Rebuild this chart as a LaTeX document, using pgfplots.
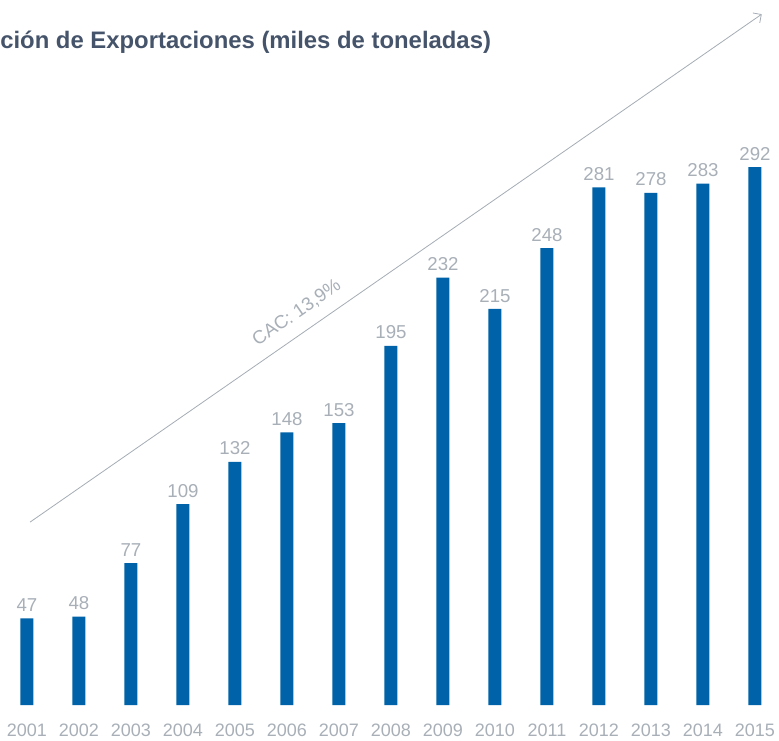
\documentclass[border=0pt]{standalone}
\usepackage{pgfplots}
\pgfplotsset{compat=1.18}
\usepackage{fontspec}
\setmainfont{Liberation Sans}
\usetikzlibrary{arrows.meta}
\definecolor{barblue}{RGB}{0,98,168}
\definecolor{lblgray}{RGB}{168,175,183}
\definecolor{titlecol}{RGB}{69,84,106}
\definecolor{arrowgray}{RGB}{165,172,180}
\begin{document}
\begin{tikzpicture}
\begin{axis}[
  scale only axis, width=584.25pt, height=528.75pt,
  xmin=-0.519, xmax=14.462, ymin=0, ymax=382.7,
  clip=false,
  axis line style={draw=none},
  ytick=\empty,
  xtick={0,...,14},
  xticklabels={2001,2002,2003,2004,2005,2006,2007,2008,2009,2010,2011,2012,2013,2014,2015},
  major tick length=0pt,
  x tick label style={font=\fontsize{13.5}{15}\selectfont, text=lblgray, yshift=-11pt},
  /pgf/number format/assume math mode=true,
]
\addplot[ybar, bar width=9.75pt, fill=barblue, draw=none,
  nodes near coords,
  nodes near coords style={font=\fontsize{14}{16}\selectfont, text=lblgray, yshift=1.5pt}]
  coordinates {(0,47) (1,48) (2,77) (3,109) (4,132) (5,148) (6,153) (7,195) (8,232) (9,215) (10,248) (11,281) (12,278) (13,283) (14,292)};
\addplot[arrowgray, line width=0.6pt, -{Straight Barb[length=4.5pt,width=9pt]}]
  coordinates {(0.06,99.3) (14.13,375)};
\node[rotate=34.8, font=\fontsize{14}{16}\selectfont, text=lblgray] at (axis cs:5.19,212.8) {CAC: 13,9\%};
\node[anchor=base west, inner sep=0, font=\bfseries\fontsize{17.9}{20}\selectfont, text=titlecol] at (axis cs:-0.519,356.1) {ción de Exportaciones (miles de toneladas)};
\end{axis}
\pgfresetboundingbox
\path[use as bounding box] (0,-26.25pt) rectangle (584.25pt,528.75pt);
\end{tikzpicture}
\end{document}
